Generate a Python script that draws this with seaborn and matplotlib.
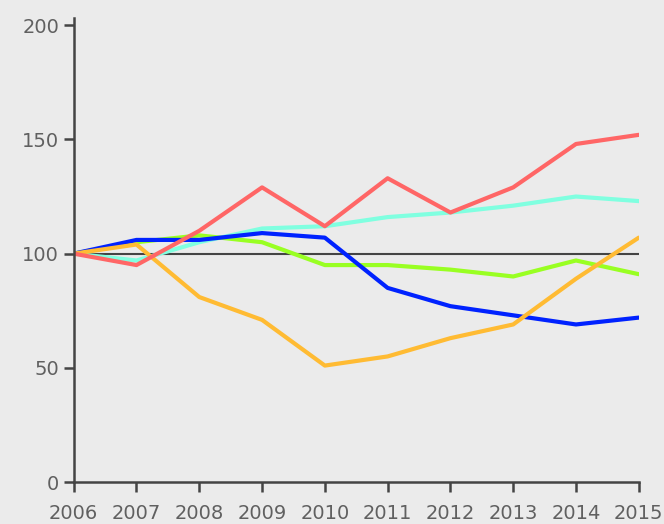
import matplotlib
matplotlib.use("Agg")
import matplotlib.pyplot as plt
import seaborn as sns
import pandas as pd

years = [2006, 2007, 2008, 2009, 2010, 2011, 2012, 2013, 2014, 2015]
red = [100, 95, 110, 129, 112, 133, 118, 129, 148, 152]
cyan = [100, 97, 105, 111, 112, 116, 118, 121, 125, 123]
blue = [100, 106, 106, 109, 107, 85, 77, 73, 69, 72]
green = [100, 105, 108, 105, 95, 95, 93, 90, 97, 91]
orange = [100, 104, 81, 71, 51, 55, 63, 69, 89, 107]

series = {"cyan": cyan, "green": green, "blue": blue, "orange": orange, "red": red}
colors = {"cyan": "#80ffe0", "green": "#99ff22", "blue": "#0022ff",
          "orange": "#ffbb33", "red": "#ff6666"}

rows = []
for name, vals in series.items():
    for y, v in zip(years, vals):
        rows.append({"year": y, "value": v, "series": name})
df = pd.DataFrame(rows)

sns.set_style("ticks")
bg = "#ebebeb"
fig = plt.figure(figsize=(6.64, 5.24), dpi=100, facecolor=bg)
ax = fig.add_axes([0.111, 0.080, 0.851, 0.885])
ax.set_facecolor(bg)

ax.axhline(100, color="#444444", lw=1.5, zorder=1)
sns.lineplot(data=df, x="year", y="value", hue="series", palette=colors,
             linewidth=3, legend=False, ax=ax, zorder=2)

ax.set_xlim(2006, 2015)
ax.set_ylim(0, 203)
ax.set_xticks(years)
ax.set_yticks([0, 50, 100, 150, 200])
ax.set_xlabel("")
ax.set_ylabel("")
sns.despine(ax=ax)
for s in ["left", "bottom"]:
    ax.spines[s].set_color("#444444")
    ax.spines[s].set_linewidth(1.8)
ax.tick_params(colors="#444444", labelcolor="#606060", width=1.8, length=7,
               labelsize=14)
ax.tick_params(axis="x", pad=9)

fig.savefig("out.png", dpi=100, facecolor=bg)
